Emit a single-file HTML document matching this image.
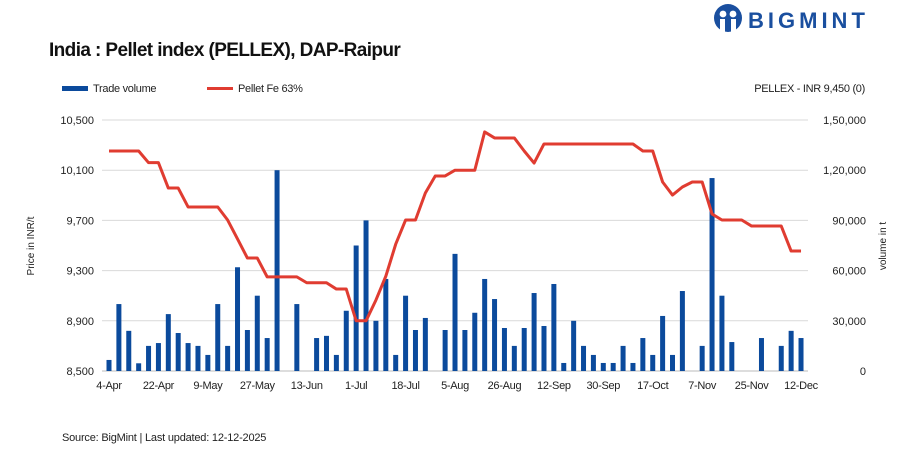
<!DOCTYPE html>
<html><head><meta charset="utf-8"><style>
body{margin:0;background:#fff;font-family:"Liberation Sans",sans-serif;}
svg{display:block}
</style></head><body>
<svg id="c" width="907" height="454" viewBox="0 0 907 454" xmlns="http://www.w3.org/2000/svg">
<g>
<circle cx="728" cy="18" r="14" fill="#1a4f9f"/>
<circle cx="723" cy="14" r="3.4" fill="#fff"/><circle cx="733" cy="14" r="3.4" fill="#fff"/>
<rect x="720" y="19" width="5" height="14" fill="#fff"/><rect x="731" y="19" width="5" height="14" fill="#fff"/>
<text x="748" y="28" font-size="22" font-weight="bold" fill="#1a4f9f" letter-spacing="4">BIGMINT</text>
</g>
<text x="49" y="56" font-size="19" font-weight="bold" fill="#111" letter-spacing="-0.6">India : Pellet index (PELLEX), DAP-Raipur</text>
<g>
<rect x="62" y="86" width="26" height="5" fill="#0b4a9c"/>
<text x="93" y="92" font-size="11" fill="#222" letter-spacing="-0.3">Trade volume</text>
<rect x="207" y="87" width="26" height="3" fill="#e03c31"/>
<text x="238" y="92" font-size="11" fill="#222" letter-spacing="-0.3">Pellet Fe 63%</text>
</g>
<text x="865" y="92" font-size="11" fill="#222" text-anchor="end" letter-spacing="-0.3">PELLEX - INR 9,450 (0)</text>
<g id="grid"></g><g id="bars"></g><g id="line"></g><g id="axes"></g>
<text transform="translate(34,246) rotate(-90)" font-size="10" fill="#222" text-anchor="middle">Price in INR/t</text>
<text transform="translate(886,246) rotate(-90)" font-size="10" fill="#222" text-anchor="middle">volume in t</text>
<text x="62" y="441" font-size="11" fill="#222" letter-spacing="-0.2">Source: BigMint | Last updated: 12-12-2025</text>
</svg>
<script>
const tickLabels=["4-Apr","22-Apr","9-May","27-May","13-Jun","1-Jul","18-Jul","5-Aug","26-Aug","12-Sep","30-Sep","17-Oct","7-Nov","25-Nov","12-Dec"];
const priceTicks=[8500,8900,9300,9700,10100,10500];
const volTicks=[0,30000,60000,90000,120000,150000];
const volumes=[6600,40000,24000,4600,15000,16700,34000,22700,16700,15000,9600,40000,15000,62000,24500,45000,19700,120000,null,40000,null,19700,21000,9600,36000,75000,90000,30000,55000,9600,45000,24500,31700,null,24500,70000,24500,34800,55000,43000,25700,15000,25700,46600,26900,52000,4800,30000,15000,9600,4800,4800,15000,4800,19700,9600,32900,9600,47800,null,15000,115300,45000,17300,null,null,19700,null,15000,24000,19700];
const prices=[10253,10253,10253,10253,10160,10160,9958,9958,9807,9807,9807,9807,9703,9552,9400,9400,9250,9250,9250,9250,9203,9203,9203,9153,9153,8900,8900,9065,9255,9510,9703,9703,9918,10054,10054,10100,10100,10100,10405,10357,10357,10357,10253,10157,10309,10309,10309,10309,10309,10309,10309,10309,10309,10309,10253,10253,10006,9902,9966,10006,10006,9751,9703,9703,9703,9655,9655,9655,9655,9456,9456];
const NS='http://www.w3.org/2000/svg';
const X0=109,DX=9.886,YT=120,YB=371;
const xs=i=>X0+i*DX;
const yP=p=>YB-(p-8500)/2000*(YB-YT);
const yV=v=>YB-v/150000*(YB-YT);
function mk(t,a,p){const e=document.createElementNS(NS,t);for(const k in a)e.setAttribute(k,a[k]);p.appendChild(e);return e;}
const G=document.getElementById('grid'),B=document.getElementById('bars'),L=document.getElementById('line'),A=document.getElementById('axes');
priceTicks.forEach((p,k)=>{
 const y=yP(p);
 const g=mk('line',{x1:102,x2:808,y1:y,y2:y,stroke:p===8500?'#bbb':'#d9d9d9','stroke-width':1},G);
 
 
 const t=mk('text',{x:94,y:y+4,'font-size':11,'text-anchor':'end',fill:'#222'},A);
 t.textContent=p.toLocaleString('en-US');
 
 
});
volTicks.forEach(v=>{
 const t=mk('text',{x:866,y:yV(v)+4,'font-size':11,'text-anchor':'end',fill:'#222'},A);
 t.textContent=v.toLocaleString('en-IN');
 
 
});
tickLabels.forEach((s,k)=>{
 const t=mk('text',{x:xs(k*5),y:389,'font-size':11,'text-anchor':'middle',fill:'#222','letter-spacing':'-0.3'},A);
 t.textContent=s;
 
 
});
volumes.forEach((v,i)=>{
 if(v==null)return;
 const y=yV(v);
 const r=mk('rect',{x:xs(i)-2.5,y:y,width:5,height:YB-y,fill:'#0b4a9c'},B);
 
 
});
const pl=mk('polyline',{points:prices.map((p,i)=>xs(i)+','+yP(p)).join(' '),fill:'none',stroke:'#e03c31','stroke-width':3,'stroke-linejoin':'round'},L);


</script>
</body></html>
